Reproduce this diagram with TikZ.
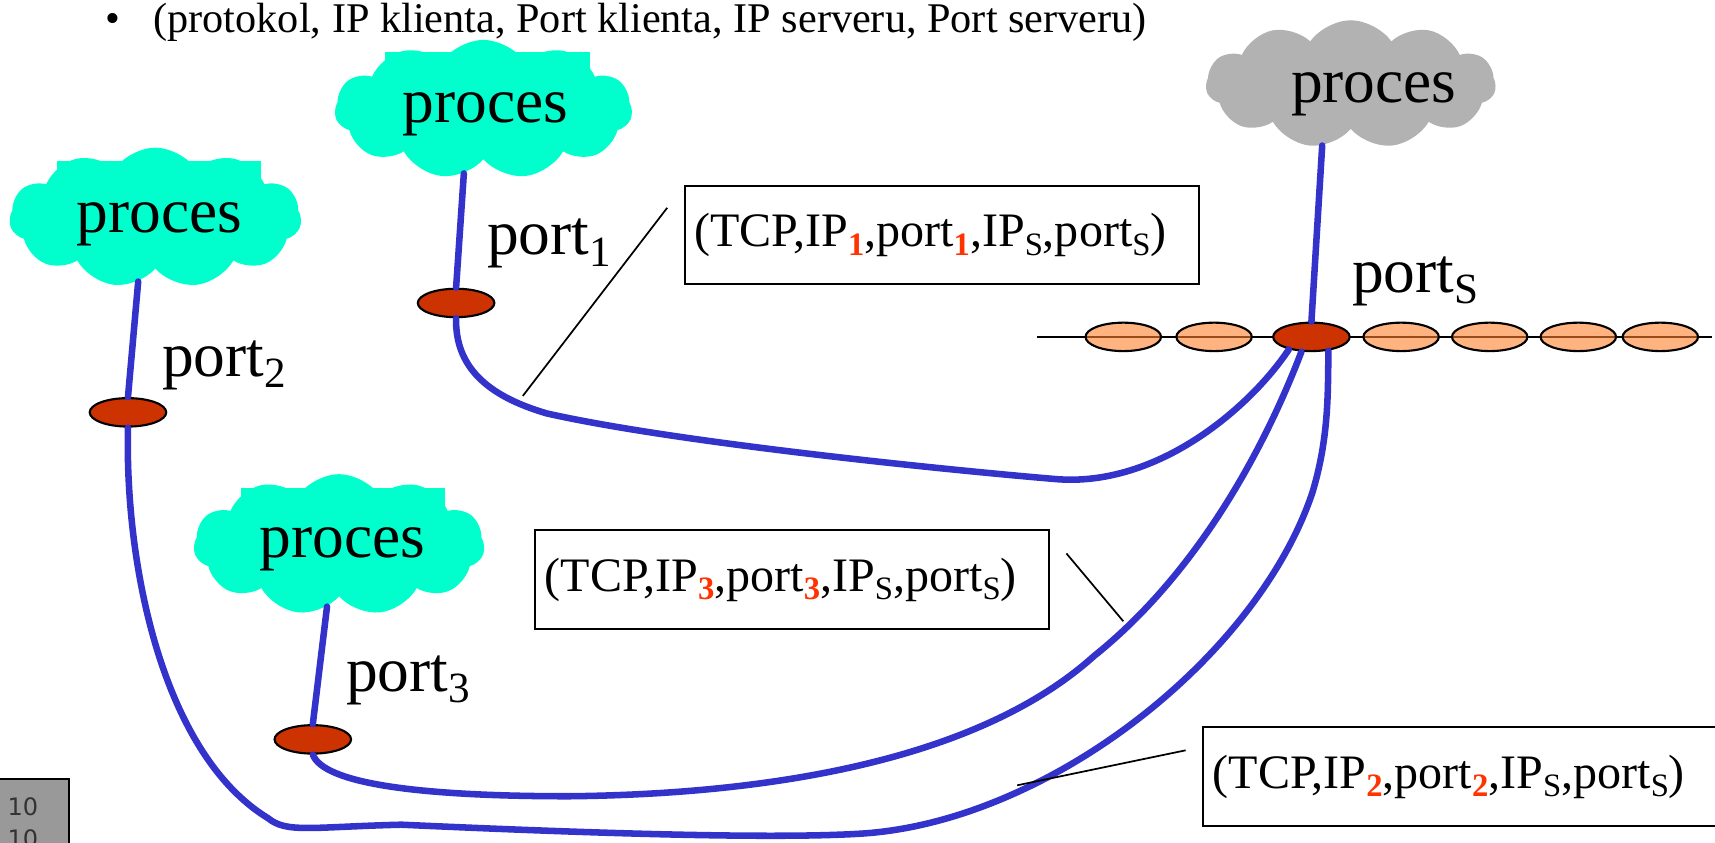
\documentclass[tikz,border=0pt]{standalone}
\usepackage{fontspec}
\setmainfont{Liberation Serif}
\newfontfamily\pagefont{DejaVu Sans}
\usetikzlibrary{calc}
\usetikzlibrary{shapes.geometric}
\usetikzlibrary{shapes.symbols}
\definecolor{proccyan}{RGB}{0,255,204}
\definecolor{procgray}{RGB}{178,178,178}
\definecolor{wireblue}{RGB}{51,51,204}
\definecolor{portred}{RGB}{204,51,0}
\definecolor{slotorange}{RGB}{255,128,43}
\definecolor{idxred}{RGB}{255,51,0}
\newcommand{\portidx}[1]{\raisebox{-0.18em}{\scalebox{0.68}{#1}}}
\newcommand{\cliidx}[1]{\portidx{\textcolor{idxred}{\bfseries #1}}}
\tikzset{proccloud/.style={cloud, cloud puffs=11, cloud puff arc=110, cloud ignores aspect, fill=proccyan, inner sep=0pt}}
\tikzset{srvcloud/.style={proccloud, fill=procgray}}
\tikzset{proctext/.style={inner sep=0pt, anchor=base, font=\fontsize{33pt}{40pt}\selectfont}}
\tikzset{portlabel/.style={proctext, anchor=base west}}
\tikzset{portdot/.style={ellipse, fill=portred, draw=black, line width=1.1pt, minimum width=1.4cm, minimum height=0.52cm, inner sep=0pt}}
\tikzset{slotdot/.style={portdot, fill=slotorange, fill opacity=0.6, minimum width=1.38cm}}
\tikzset{wire/.style={draw=wireblue, line width=3.4pt, line cap=round, line join=round}}
\tikzset{pointerline/.style={draw=black, line width=0.9pt}}
\tikzset{tuplebox/.style={draw=black, fill=white, line width=1.1pt, anchor=north west, minimum height=1.8cm, text width=9.04cm, inner xsep=0.18cm, align=left, font=\fontsize{25pt}{30pt}\selectfont}}

\begin{document}
\begin{tikzpicture}[x=0.02cm,y=-0.02cm]
\useasboundingbox (0,0) rectangle (1568,770);

% heading line
\node[inner sep=0pt, anchor=base west, font=\fontsize{22pt}{26pt}\selectfont] (bul) at (96,30) {\textbullet};
\node[inner sep=0pt, anchor=base west, font=\fontsize{22pt}{26pt}\selectfont] (head) at (140,30) {(protokol, IP klienta, Port klienta, IP serveru, Port serveru)};

% server bus with queue slots
\coordinate (busL) at (948,308);
\coordinate (busR) at (1565,308);
\draw[line width=1.4pt] (busL) -- (busR);
\foreach \x/\n in {1027/1,1110/2,1281/3,1362/4,1443/5,1518/6}
  \node[slotdot] (q\n) at (\x,308) {};

% processes
\foreach \x/\y in {142/199, 442/100, 310/498}
  \fill[proccyan] ($(\x,\y)+(-90,-52)$) rectangle ($(\x,\y)+(97,-24)$);
\node[proccloud, minimum width=5.34cm, minimum height=2.56cm] (C0) at (142,199) {};
\node[proccloud, minimum width=5.44cm, minimum height=2.54cm] (C1) at (442,100) {};
\node[proccloud, minimum width=5.32cm, minimum height=2.58cm] (C3) at (310,498) {};
\node[srvcloud, minimum width=5.30cm, minimum height=2.34cm] (CS) at (1235,77) {};
\node[proctext] (t0) at (146,213) {proces};
\node[proctext] (t1) at (444,112) {proces};
\node[proctext] (t3) at (313,510) {proces};
\node[proctext] (tS) at (1256,94) {proces};

% ports
\node[portdot] (P1) at (417,277) {};
\node[portdot] (P2) at (117,377) {};
\node[portdot] (P3) at (286,676) {};
\node[portdot] (PS) at (1199,308) {};
\node[portlabel] (l1) at (445,233) {port\portidx{1}};
\node[portlabel] (l2) at (148,344) {port\portidx{2}};
\node[portlabel] (l3) at (316,632) {port\portidx{3}};
\node[portlabel] (lS) at (1236,267) {port\portidx{S}};

\draw[wire] (C0.255) -- (P2.north);
\draw[wire] (C1.253) -- (P1.north);
\draw[wire] (C3.259) -- (P3.north);
\draw[wire] (CS.245) -- (PS.north);

% connections
\draw[wire] (P1.south) .. controls (416,335) and (445,362) .. (500,378)
  .. controls (620,405) and (870,430) .. (965,438)
  .. controls (1060,446) and (1145,370) .. (PS.209);
\draw[wire] (P3.south) .. controls (296,716) and (380,728) .. (520,728)
  .. controls (720,726) and (900,690) .. (1000,600)
  .. controls (1100,520) and (1160,400) .. (PS.236);
\draw[wire] (P2.south) .. controls (114,520) and (150,690) .. (245,748)
  .. controls (262,762) and (285,756) .. (367,754)
  .. controls (500,760) and (700,768) .. (790,762)
  .. controls (960,750) and (1150,600) .. (1200,450)
  .. controls (1215,400) and (1214,360) .. (PS.321);

% socket tuples
\node[tuplebox] (B1) at (625,169) {(TCP,IP\cliidx{1},port\cliidx{1},IP\portidx{S},port\portidx{S})};
\node[tuplebox] (B3) at (488,484) {(TCP,IP\cliidx{3},port\cliidx{3},IP\portidx{S},port\portidx{S})};
\node[tuplebox] (B2) at (1099,664) {(TCP,IP\cliidx{2},port\cliidx{2},IP\portidx{S},port\portidx{S})};
\coordinate (k1a) at (610,190);
\coordinate (k1b) at (478,362);
\coordinate (k3a) at (975,506);
\coordinate (k3b) at (1027,568);
\coordinate (k2a) at (1084,686);
\coordinate (k2b) at (930,718);
\draw[pointerline] (k1a) -- (k1b);
\draw[pointerline] (k3a) -- (k3b);
\draw[pointerline] (k2a) -- (k2b);

% slide number
\node[draw=black, fill=black!40, line width=1.1pt, anchor=north west, text width=0.9cm, inner xsep=0.22cm, minimum height=1.6cm, align=left, text=black!80, font=\pagefont\fontsize{12.5pt}{16.5pt}\selectfont] (pg) at (-5,711) {10\\10};

\end{tikzpicture}
\end{document}
